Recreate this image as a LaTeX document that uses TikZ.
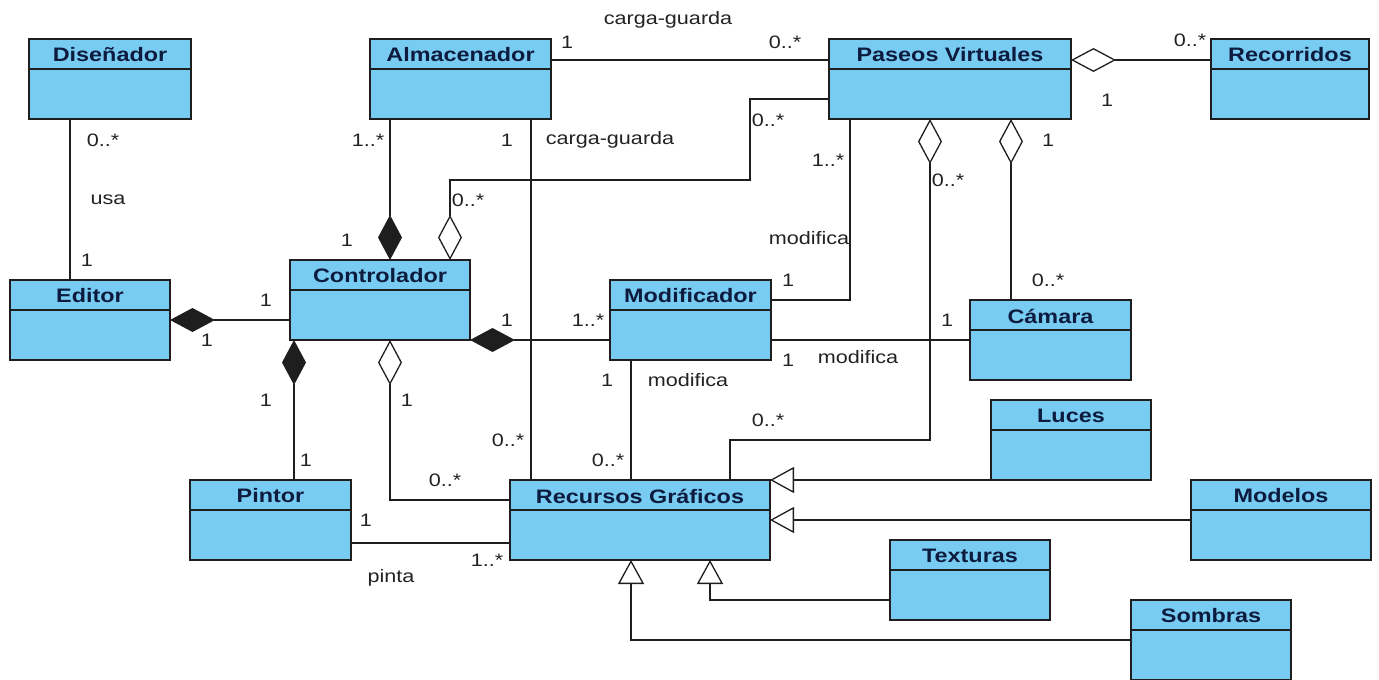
\documentclass[tikz,border=0pt]{standalone}
\usepackage{fontspec}
\newfontfamily\dibfont[FakeStretch=1.2]{Liberation Sans}
\usetikzlibrary{arrows.meta, calc, positioning}
\definecolor{celeste}{HTML}{78CCF2}
\definecolor{marino}{HTML}{0D1B3E}
\definecolor{trazo}{HTML}{1E1E1E}
\definecolor{texto}{HTML}{222222}

\tikzset{
  compo/.tip={Diamond[length=45pt, width=24pt]},
  agreg/.tip={Diamond[fill=white, length=45pt, width=24pt]},
  gener/.tip={Triangle[fill=white, length=24pt, width=26pt]},
  linea/.style={draw=trazo, line width=1.3pt},
  clase/.style={draw=trazo, fill=celeste, line width=1.4pt, inner sep=0pt,
                outer sep=0pt, minimum height=80pt, anchor=north west},
  titulo/.style={font=\dibfont\bfseries\fontsize{19.5}{20}\selectfont,
                 text=marino, inner sep=0pt},
  etq/.style={font=\dibfont\fontsize{18}{20}\selectfont, text=texto, inner sep=0pt}
}

% nombre, x, y, ancho, titulo
\newcommand{\clase}[5]{%
  \node[clase, minimum width=#4pt] (#1) at (#2,#3) {};
  \draw[linea] ([yshift=-30pt]#1.north west) -- ([yshift=-30pt]#1.north east);
  \node[titulo] (#1-t) at ([yshift=-16pt]#1.north) {#5};
}

\begin{document}
\begin{tikzpicture}[x=1pt, y=-1pt]
  \useasboundingbox (0,0) rectangle (1379,680);

  % Clases
  \clase{dis}{29}{39}{162}{Diseñador}
  \clase{alm}{370}{39}{181}{Almacenador}
  \clase{pas}{829}{39}{242}{Paseos Virtuales}
  \clase{rec}{1211}{39}{158}{Recorridos}
  \clase{ed}{10}{280}{160}{Editor}
  \clase{ctl}{290}{260}{180}{Controlador}
  \clase{mod}{610}{280}{161}{Modificador}
  \clase{cam}{970}{300}{161}{Cámara}
  \clase{luc}{991}{400}{160}{Luces}
  \clase{pin}{190}{480}{161}{Pintor}
  \clase{rg}{510}{480}{260}{Recursos Gráficos}
  \clase{mdl}{1191}{480}{180}{Modelos}
  \clase{tex}{890}{540}{160}{Texturas}
  \clase{som}{1131}{600}{160}{Sombras}

  % Asociaciones
  \draw[linea] ($(dis.south west)+(41,0)$) -- ($(ed.north west)+(60,0)$);
  \draw[linea] ([yshift=-21pt]alm.north east) -- ([yshift=-21pt]pas.north west);
  \draw[linea] ($(alm.south west)+(161,0)$) -- ($(rg.north west)+(21,0)$);
  \draw[linea] ($(pas.south west)+(21,0)$) |- ([yshift=-20pt]mod.north east);
  \draw[linea] ([yshift=-60pt]mod.north east) -- ([yshift=-40pt]cam.north west);
  \draw[linea] ($(mod.south west)+(21,0)$) -- ($(rg.north west)+(121,0)$);
  \draw[linea] ([yshift=-63pt]pin.north east) -- ([yshift=-63pt]rg.north west);

  % Composicion y agregacion
  \draw[linea, -agreg] ([yshift=-60pt]pas.north west) -| ($(pas.north west)+(-79,141)$)
    -| ($(ctl.north west)+(160,0)$);
  \draw[linea, -compo] ($(alm.south west)+(20,0)$) -- ($(ctl.north west)+(100,0)$);
  \draw[linea, agreg-] ([yshift=-21pt]pas.north east) -- ([yshift=-21pt]rec.north west);
  \draw[linea, agreg-] ($(pas.south west)+(101,0)$) |- ($(rg.north west)+(220,-40)$)
    -- ($(rg.north west)+(220,0)$);
  \draw[linea, agreg-] ($(pas.south west)+(182,0)$) -- ($(cam.north west)+(41,0)$);
  \draw[linea, compo-] ([yshift=-40pt]ed.north east) -- ([yshift=-60pt]ctl.north west);
  \draw[linea, compo-] (ctl.south east) -- ([yshift=-60pt]mod.north west);
  \draw[linea, compo-] ($(ctl.south west)+(4,0)$) -- ($(pin.north west)+(104,0)$);
  \draw[linea, agreg-] ($(ctl.south west)+(100,0)$) |- ([yshift=-20pt]rg.north west);

  % Herencia
  \draw[linea, -gener] (luc.south west) -- (rg.north east);
  \draw[linea, -gener] ([yshift=-40pt]mdl.north west) -- ([yshift=-40pt]rg.north east);
  \draw[linea, -gener] ([yshift=-60pt]tex.north west) -| ($(rg.south west)+(200,0)$);
  \draw[linea, -gener] ([yshift=-40pt]som.north west) -| ($(rg.south west)+(121,0)$);

  % Multiplicidades y roles
  \foreach \x/\y/\t [count=\i] in {
      103/140/0..*, 108/200/usa, 87/260/1,
      668/20/carga-guarda, 567/42/1, 785/42/0..*,
      768/120/0..*, 468/200/0..*, 368/140/1..*, 347/240/1,
      507/140/1, 610/140/carga-guarda, 508/440/0..*,
      828/160/1..*, 809/238/modifica, 788/280/1,
      1190/40/0..*, 1107/100/1, 948/180/0..*, 1048/140/1, 1048/280/0..*,
      266/300/1, 207/340/1, 507/320/1, 588/320/1..*,
      266/400/1, 306/460/1, 407/400/1, 445/480/0..*,
      788/360/1, 858/357/modifica, 947/320/1,
      607/380/1, 688/380/modifica, 608/460/0..*, 768/420/0..*,
      366/520/1, 391/578/pinta, 487/560/1..*}
    \node[etq] (m\i) at (\x,\y) {\t};
\end{tikzpicture}
\end{document}
